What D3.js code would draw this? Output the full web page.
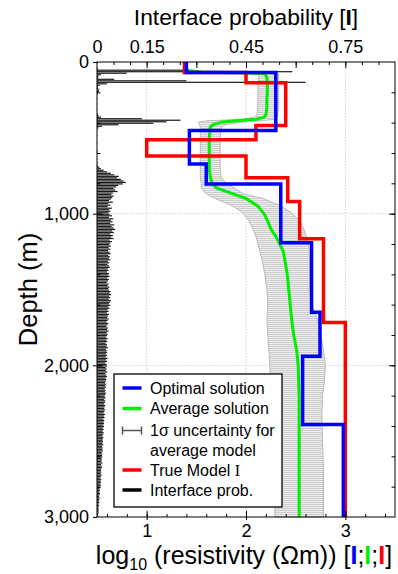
<!DOCTYPE html>
<html><head><meta charset="utf-8">
<script src="https://cdn.jsdelivr.net/npm/d3@7/dist/d3.min.js"></script>
<style>
body{margin:0;background:#fff}
svg{display:block;font-family:"Liberation Sans",Arial,sans-serif}
</style>
</head><body>
<svg id="chart" width="398" height="574"></svg>
<script>
// ---------------- data ----------------
const probTickLabels = [0, 0.15, 0.45, 0.75];
const resTickLabels = [1, 2, 3];
const depthTickLabels = [0, 1000, 2000, 3000];

// interface probability, 10 m bins from 0 to 3000 m
const interfaceBin = 10;
const interfaceProb = [
  0.002,0,0,0,0.003,0.26,0.59,0.09,0.012,0.004,
  0.004,0.052,0.27,0.63,0.03,0.008,0.003,0.004,0.007,0.006,
  0.002,0.001,0,0,0.001,0,0,0.001,0,0,
  0,0.001,0,0,0.003,0.005,0.012,0.136,0.252,0.21,
  0.17,0.065,0.015,0.004,0.001,0,0,0,0.001,0,
  0,0,0,0.001,0,0,0,0,0.001,0.002,
  0,0,0,0,0.001,0,0.002,0,0.003,0.007,
  0.012,0.02,0.03,0.042,0.052,0.066,0.061,0.072,0.08,0.087,
  0.078,0.064,0.058,0.05,0.055,0.062,0.048,0.043,0.05,0.046,
  0.042,0.036,0.048,0.034,0.04,0.032,0.045,0.036,0.041,0.035,
  0.038,0.045,0.036,0.049,0.042,0.047,0.04,0.052,0.044,0.05,
  0.055,0.046,0.051,0.04,0.048,0.043,0.05,0.038,0.045,0.04,
  0.037,0.042,0.035,0.04,0.033,0.038,0.041,0.034,0.039,0.036,
  0.04,0.033,0.037,0.031,0.036,0.039,0.032,0.035,0.03,0.036,
  0.034,0.038,0.031,0.036,0.033,0.029,0.035,0.032,0.037,0.034,
  0.036,0.041,0.038,0.043,0.037,0.04,0.035,0.042,0.039,0.036,
  0.04,0.034,0.038,0.032,0.035,0.03,0.036,0.033,0.031,0.035,
  0.032,0.029,0.034,0.031,0.028,0.033,0.03,0.035,0.029,0.032,
  0.03,0.027,0.032,0.028,0.031,0.026,0.03,0.029,0.033,0.027,
  0.029,0.031,0.027,0.03,0.026,0.032,0.028,0.03,0.025,0.029,
  0.03,0.026,0.029,0.027,0.031,0.025,0.028,0.03,0.026,0.028,
  0.027,0.024,0.028,0.025,0.027,0.023,0.026,0.024,0.027,0.025,
  0.023,0.026,0.022,0.025,0.024,0.021,0.025,0.023,0.022,0.024,
  0.022,0.02,0.024,0.021,0.023,0.019,0.022,0.02,0.021,0.019,
  0.021,0.018,0.02,0.017,0.02,0.019,0.016,0.019,0.018,0.017,
  0.018,0.016,0.019,0.015,0.017,0.016,0.018,0.014,0.016,0.015,
  0.016,0.014,0.015,0.013,0.016,0.012,0.014,0.015,0.013,0.012,
  0.013,0.011,0.014,0.012,0.01,0.013,0.011,0.012,0.01,0.011,
  0.01,0.008,0.009,0.007,0.009,0.008,0.006,0.008,0.007,0.006,
  0.007,0.005,0.006,0.005,0.004,0.006,0.004,0.005,0.003,0.004
];

// average solution and 1-sigma bounds (log10 ohm-m) vs depth (m)
const avgDepth = [0,55,66,72,78,100,150,200,250,300,350,365,378,388,398,412,430,500,600,700,760,800,830,870,900,950,1000,1050,1100,1150,1200,1250,1300,1400,1500,1600,1700,1800,1900,2000,2100,2200,2300,2500,2700,3000];
const avgLog   = [1.40,1.40,1.55,2.00,2.19,2.21,2.215,2.215,2.21,2.21,2.20,2.18,2.10,1.90,1.75,1.67,1.64,1.63,1.63,1.63,1.64,1.66,1.70,1.87,2.00,2.12,2.18,2.22,2.25,2.30,2.34,2.375,2.39,2.415,2.43,2.445,2.46,2.48,2.51,2.525,2.53,2.535,2.535,2.535,2.535,2.535];
const sdLow    = [1.40,1.40,1.50,1.95,2.12,2.13,2.12,2.12,2.12,2.12,2.11,2.08,1.95,1.60,1.52,1.53,1.54,1.54,1.54,1.54,1.54,1.55,1.55,1.60,1.69,1.87,1.98,2.03,2.07,2.10,2.12,2.14,2.16,2.19,2.21,2.22,2.21,2.22,2.23,2.24,2.245,2.27,2.28,2.29,2.29,2.29];
const sdHigh   = [1.40,1.40,1.60,2.10,2.33,2.33,2.33,2.33,2.33,2.33,2.32,2.31,2.28,2.15,1.95,1.80,1.75,1.74,1.74,1.74,1.75,1.80,1.88,1.98,2.17,2.36,2.47,2.54,2.58,2.61,2.63,2.64,2.64,2.64,2.64,2.66,2.72,2.75,2.78,2.80,2.79,2.77,2.765,2.77,2.78,2.78];

// layered models: top depth of each layer (last value = bottom) and log10 resistivity
const trueDepth = [0,70,136,418,513,619,763,920,1165,1718,3000];
const trueLog   = [1.38,2.00,2.40,2.10,1.00,2.00,2.42,2.54,2.78,3.00];
const optDepth  = [0,70,452,672,805,1192,1650,1940,2390,3000];
const optLog    = [1.40,2.30,1.43,1.60,2.35,2.66,2.745,2.57,2.98];

const legendLabels = ["Optimal solution","Average solution","1σ uncertainty for","average model","True Model ","Interface prob."];

// ---------------- layout ----------------
const L = 97, R = 395, T = 62, B = 517;
const svg = d3.select("#chart");
svg.append("rect").attr("width",398).attr("height",574).attr("fill","#fff");

const xRes = d3.scaleLinear().domain([0.5,3.5]).range([L,R]);
const xProb = d3.scaleLinear().domain([0,0.9]).range([L,R]);
const y = d3.scaleLinear().domain([0,3000]).range([T,B]);

const defs = svg.append("defs");
const pat = defs.append("pattern").attr("id","hatch").attr("patternUnits","userSpaceOnUse")
  .attr("width",4).attr("height",2);
pat.append("rect").attr("width",4).attr("height",2).attr("fill","#ececec");
pat.append("rect").attr("width",4).attr("height",0.8).attr("fill","#c6c6c6");

// gridlines
const grid = svg.append("g").attr("stroke","#c8c8c8").attr("stroke-width",0.8).attr("stroke-dasharray","1.5,1.5");
resTickLabels.forEach(v => grid.append("line").attr("x1",xRes(v)).attr("x2",xRes(v)).attr("y1",T).attr("y2",B));
[1000,2000].forEach(d => grid.append("line").attr("x1",L).attr("x2",R).attr("y1",y(d)).attr("y2",y(d)));

// uncertainty band
const band = avgDepth.map((d,i)=>({d, lo:sdLow[i], hi:sdHigh[i], m:avgLog[i]}));
svg.append("path").datum(band)
  .attr("d", d3.area().y(p=>y(p.d)).x0(p=>xRes(p.lo)).x1(p=>xRes(p.hi)))
  .attr("fill","url(#hatch)").attr("stroke","#b4b4b4").attr("stroke-width",0.9);

// interface probability bars
const bh = y(interfaceBin) - y(0);
svg.append("g").selectAll("rect").data(interfaceProb).join("rect")
  .attr("x", xProb(0))
  .attr("y", (p,i)=> y(i*interfaceBin))
  .attr("width", p => xProb(p) - xProb(0))
  .attr("height", bh*0.8)
  .attr("fill", "#1c1c1c");

// average solution
svg.append("path").datum(band)
  .attr("d", d3.line().y(p=>y(p.d)).x(p=>xRes(p.m)))
  .attr("fill","none").attr("stroke","#00ee00").attr("stroke-width",3).attr("stroke-linejoin","round");

function stepPts(depths, vals){
  const pts = vals.map((v,i)=>[v, depths[i]]);
  pts.push([vals[vals.length-1], depths[depths.length-1]]);
  return pts;
}
const stepLine = d3.line().x(p=>xRes(p[0])).y(p=>y(p[1])).curve(d3.curveStepBefore);
svg.append("path").datum(stepPts(trueDepth,trueLog)).attr("d",stepLine)
  .attr("fill","none").attr("stroke","#ff0000").attr("stroke-width",3.5).attr("stroke-linejoin","miter");
svg.append("path").datum(stepPts(optDepth,optLog)).attr("d",stepLine)
  .attr("fill","none").attr("stroke","#0000ff").attr("stroke-width",3.5).attr("stroke-linejoin","miter");

// frame
svg.append("rect").attr("x",L).attr("y",T).attr("width",R-L).attr("height",B-T)
  .attr("fill","none").attr("stroke","#000").attr("stroke-width",1);

// axes
function styleAxis(g){ g.select(".domain").remove(); g.selectAll("line").attr("stroke","#000");
  g.selectAll("text").attr("font-size",18).attr("font-family","'Liberation Sans',Arial,sans-serif").attr("fill","#000"); }

svg.append("g").attr("transform",`translate(${L},0)`)
  .call(d3.axisLeft(y).tickValues(depthTickLabels).tickFormat(d3.format(",")).tickSize(4).tickPadding(4)).call(styleAxis);
svg.append("g").attr("transform",`translate(${L},0)`)
  .call(d3.axisLeft(y).tickValues([1000,2000]).tickFormat("").tickSize(-6)).call(styleAxis);
svg.append("g").attr("transform",`translate(${L},0)`)
  .call(d3.axisLeft(y).tickValues(d3.range(200,3000,200)).tickFormat("").tickSize(-3.5)).call(styleAxis);

svg.append("g").attr("transform",`translate(${R},0)`)
  .call(d3.axisRight(y).tickValues([1000,2000]).tickFormat("").tickSize(-6)).call(styleAxis);
svg.append("g").attr("transform",`translate(${R},0)`)
  .call(d3.axisRight(y).tickValues(d3.range(200,3000,200)).tickFormat("").tickSize(-3.5)).call(styleAxis);

svg.append("g").attr("transform",`translate(0,${T})`)
  .call(d3.axisTop(xProb).tickValues(probTickLabels).tickFormat(d => d === 0 ? "0" : d3.format(".2f")(d)).tickSize(0).tickPadding(9)).call(styleAxis);
svg.append("g").attr("transform",`translate(0,${T})`)
  .call(d3.axisTop(xProb).tickValues(d3.range(0.15,0.9,0.15)).tickFormat("").tickSize(-6)).call(styleAxis);
svg.append("g").attr("transform",`translate(0,${T})`)
  .call(d3.axisTop(xProb).tickValues(d3.range(0.05,0.9,0.05)).tickFormat("").tickSize(-3)).call(styleAxis);

svg.append("g").attr("transform",`translate(0,${B})`)
  .call(d3.axisBottom(xRes).tickValues(resTickLabels).tickFormat(d3.format("d")).tickSize(3).tickPadding(4)).call(styleAxis);
svg.append("g").attr("transform",`translate(0,${B})`)
  .call(d3.axisBottom(xRes).tickValues(resTickLabels).tickFormat("").tickSize(-6)).call(styleAxis);
svg.append("g").attr("transform",`translate(0,${B})`)
  .call(d3.axisBottom(xRes).tickValues(d3.range(0.6,3.45,0.2)).tickFormat("").tickSize(-3)).call(styleAxis);

// titles
const topTitle = svg.append("text").attr("x",(L+R)/2).attr("y",25).attr("text-anchor","middle")
  .attr("font-size",22.8).attr("fill","#000");
topTitle.append("tspan").text("Interface probability [");
topTitle.append("tspan").attr("font-weight","bold").text("I");
topTitle.append("tspan").text("]");

const botTitle = svg.append("text").attr("x",(L+R)/2 - 2).attr("y",564).attr("text-anchor","middle")
  .attr("font-size",25).attr("fill","#000");
botTitle.append("tspan").text("log");
botTitle.append("tspan").attr("font-size",16).attr("dy",6).text("10");
botTitle.append("tspan").attr("dy",-6).text(" (resistivity (Ωm)) [");
botTitle.append("tspan").attr("font-weight","bold").attr("fill","#0000ff").text("I");
botTitle.append("tspan").text(";");
botTitle.append("tspan").attr("font-weight","bold").attr("fill","#00ee00").text("I");
botTitle.append("tspan").text(";");
botTitle.append("tspan").attr("font-weight","bold").attr("fill","#ff0000").text("I");
botTitle.append("tspan").text("]");

svg.append("text").attr("transform",`translate(37,${(T+B)/2}) rotate(-90)`).attr("text-anchor","middle")
  .attr("font-size",25.5).attr("fill","#000").text("Depth (m)");

// legend
const lg = svg.append("g");
lg.append("rect").attr("x",114).attr("y",374).attr("width",168).attr("height",133)
  .attr("fill","#fff").attr("stroke","#000").attr("stroke-width",1.3);
const sx0 = 122.5, sx1 = 141.5, tx = 150;
const rows = [388, 408.5, 430.5, 450.5, 470, 490];
lg.append("line").attr("x1",sx0).attr("x2",sx1).attr("y1",rows[0]).attr("y2",rows[0]).attr("stroke","#0000ff").attr("stroke-width",3.5);
lg.append("line").attr("x1",sx0).attr("x2",sx1).attr("y1",rows[1]).attr("y2",rows[1]).attr("stroke","#00ee00").attr("stroke-width",3.5);
const eb = lg.append("g").attr("stroke","#555").attr("stroke-width",1.5);
eb.append("line").attr("x1",sx0).attr("x2",sx1).attr("y1",rows[2]).attr("y2",rows[2]);
eb.append("line").attr("x1",sx0).attr("x2",sx0).attr("y1",rows[2]-4).attr("y2",rows[2]+4);
eb.append("line").attr("x1",sx1).attr("x2",sx1).attr("y1",rows[2]-4).attr("y2",rows[2]+4);
lg.append("line").attr("x1",sx0).attr("x2",sx1).attr("y1",rows[4]).attr("y2",rows[4]).attr("stroke","#ff0000").attr("stroke-width",3.5);
lg.append("line").attr("x1",sx0).attr("x2",sx1).attr("y1",rows[5]).attr("y2",rows[5]).attr("stroke","#000").attr("stroke-width",3.5);
legendLabels.forEach((t,i)=>{
  const tt = lg.append("text").attr("x",tx).attr("y",rows[i]+5.5).attr("font-size",16).attr("fill","#000").text(t);
  if(i===4) tt.append("tspan").attr("font-family","'Liberation Serif',serif").text("I");
});
</script>
</body></html>
